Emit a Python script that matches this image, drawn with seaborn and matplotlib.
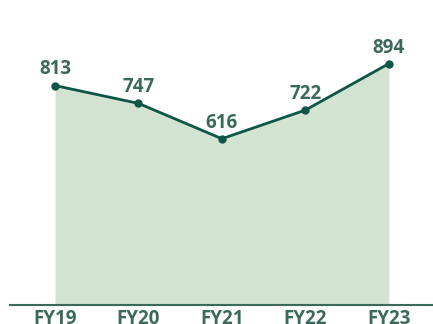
import matplotlib
matplotlib.use("Agg")
import matplotlib.pyplot as plt
import seaborn as sns
import pandas as pd

years = ["FY19", "FY20", "FY21", "FY22", "FY23"]
values = [813, 747, 616, 722, 894]

line_color = "#0d5546"
fill_color = "#d2e3d1"
text_color = "#3b6a5d"

sns.set_theme(style="white")
plt.rcParams["font.family"] = ["Open Sans", "DejaVu Sans"]

df = pd.DataFrame({"year": years, "value": values})
df["pos"] = range(len(df))

fig = plt.figure(figsize=(4.33, 3.24), dpi=100)
ax = fig.add_axes([10 / 433, 19 / 324, 423 / 433, 305 / 324])

ax.fill_between(df["pos"], df["value"], 0, color=fill_color, linewidth=0, zorder=1)
sns.lineplot(data=df, x="pos", y="value", ax=ax, color=line_color, linewidth=2,
             marker="o", markersize=6, markeredgewidth=0, zorder=3)

for x, v in zip(df["pos"], df["value"]):
    ax.annotate(f"{v}", (x, v), xytext=(0, 8), textcoords="offset points",
                ha="center", va="baseline", fontsize=13.5, fontweight="bold",
                color=text_color)

ax.set_xlim(-0.54, 4.53)
ax.set_ylim(0, 1130)
ax.set_xticks(df["pos"])
ax.set_xticklabels(years, fontsize=13.5, fontweight="bold", color=text_color)
ax.tick_params(axis="x", length=0, pad=3)
ax.set_yticks([])
ax.set_xlabel("")
ax.set_ylabel("")
for side in ["top", "left", "right"]:
    ax.spines[side].set_visible(False)
ax.spines["bottom"].set_color(text_color)
ax.spines["bottom"].set_linewidth(1.5)

fig.savefig("out.png", dpi=100)
